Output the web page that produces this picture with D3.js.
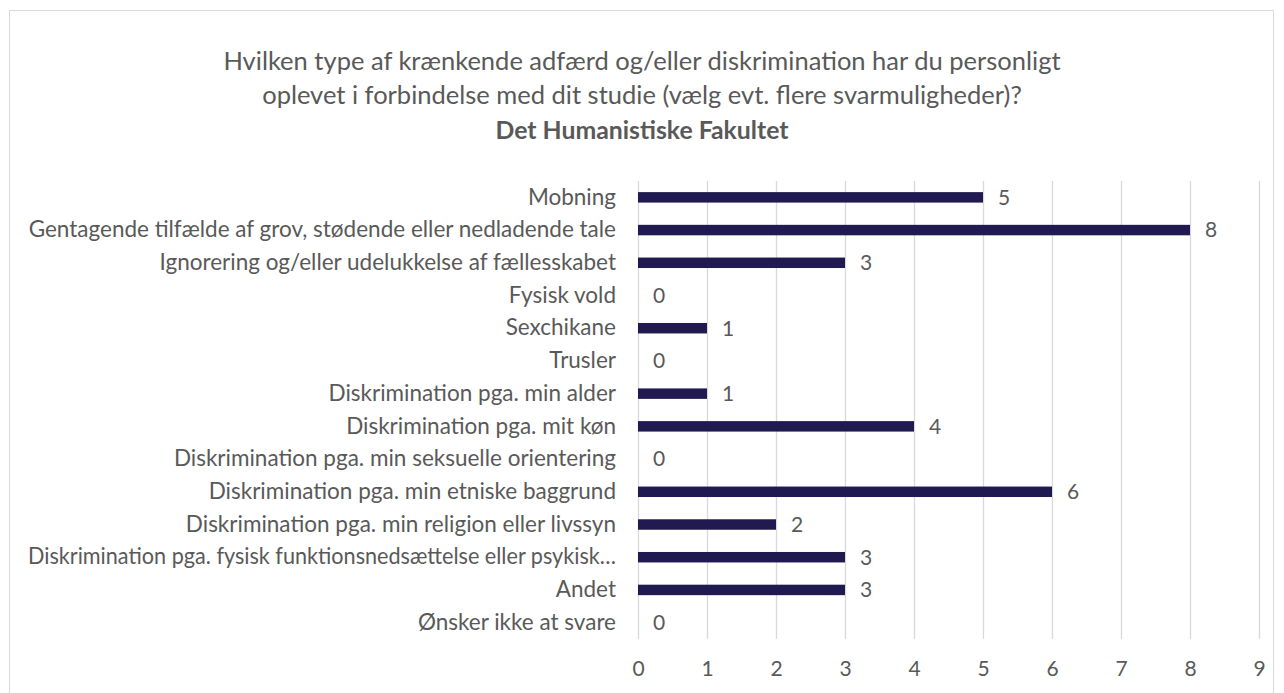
<!DOCTYPE html>
<html>
<head>
<meta charset="utf-8">
<script src="https://cdn.jsdelivr.net/npm/d3@7"></script>
<style>
  body { margin: 0; background: #fff; }
  text { font-family: Lato, "Open Sans", sans-serif; fill: #595959; }
</style>
</head>
<body>
<div id="chart"></div>
<script>
var categories = [
  "Mobning",
  "Gentagende tilfælde af grov, stødende eller nedladende tale",
  "Ignorering og/eller udelukkelse af fællesskabet",
  "Fysisk vold",
  "Sexchikane",
  "Trusler",
  "Diskrimination pga. min alder",
  "Diskrimination pga. mit køn",
  "Diskrimination pga. min seksuelle orientering",
  "Diskrimination pga. min etniske baggrund",
  "Diskrimination pga. min religion eller livssyn",
  "Diskrimination pga. fysisk funktionsnedsættelse eller psykisk…",
  "Andet",
  "Ønsker ikke at svare"
];
var values = [5, 8, 3, 0, 1, 0, 1, 4, 0, 6, 2, 3, 3, 0];
var xTicks = [0, 1, 2, 3, 4, 5, 6, 7, 8, 9];
var titleLines = [
  "Hvilken type af krænkende adfærd og/eller diskrimination har du personligt",
  "oplevet i forbindelse med dit studie (vælg evt. flere svarmuligheder)?"
];
var subtitle = "Det Humanistiske Fakultet";

var width = 1284, height = 693;
var plot = {left: 638, right: 1259, top: 181, bottom: 639};
var font = 'Lato, "Open Sans", sans-serif';
var maxLabelWidth = 588;

var svg = d3.select('#chart').append('svg')
  .attr('width', width)
  .attr('height', height);

// chart border
svg.append('rect')
  .attr('x', 9.5).attr('y', 10.5)
  .attr('width', 1264).attr('height', 700)
  .attr('fill', '#fff')
  .attr('stroke', '#d9d9d9');

var x = d3.scaleLinear()
  .domain([0, 9])
  .range([plot.left, plot.right]);

var y = d3.scaleBand()
  .domain(categories)
  .range([plot.top, plot.bottom])
  .paddingInner(0.68)
  .paddingOuter(0.34);

// gridlines
svg.append('g')
  .selectAll('line').data(xTicks)
  .enter().append('line')
    .attr('x1', function (d) { return Math.round(x(d)) + 0.5; })
    .attr('x2', function (d) { return Math.round(x(d)) + 0.5; })
    .attr('y1', plot.top)
    .attr('y2', plot.bottom)
    .attr('stroke', '#d9d9d9')
    .attr('stroke-width', 1.3);

// x axis tick labels
var xAxis = d3.axisBottom(x).tickValues(xTicks).tickSize(0).tickPadding(0);
var gx = svg.append('g')
  .attr('transform', 'translate(0,' + (plot.bottom + 22) + ')')
  .call(xAxis);
gx.select('.domain').remove();
gx.selectAll('text')
  .attr('dy', '0.71em')
  .style('font-size', '21px')
  .style('font-family', font)
  .attr('fill', '#595959');

// y axis labels
var yAxis = d3.axisLeft(y).tickSize(0).tickPadding(22);
var gy = svg.append('g')
  .attr('transform', 'translate(' + plot.left + ',0)')
  .call(yAxis);
gy.select('.domain').remove();
gy.selectAll('text')
  .style('font-size', '22.5px')
  .style('font-family', font)
  .attr('fill', '#595959')
  .each(function () {
    // keep the long labels inside the chart box
    if (this.getComputedTextLength() > maxLabelWidth) {
      d3.select(this)
        .attr('textLength', maxLabelWidth)
        .attr('lengthAdjust', 'spacingAndGlyphs');
    }
  });

// bars
svg.append('g')
  .selectAll('rect').data(values)
  .enter().append('rect')
    .attr('x', x(0))
    .attr('y', function (d, i) { return y(categories[i]); })
    .attr('width', function (d) { return x(d) - x(0); })
    .attr('height', y.bandwidth())
    .attr('fill', '#201a50');

// value labels
svg.append('g')
  .selectAll('text').data(values)
  .enter().append('text')
    .attr('x', function (d) { return x(d) + 15; })
    .attr('y', function (d, i) { return y(categories[i]) + y.bandwidth() / 2; })
    .attr('dy', '0.35em')
    .style('font-size', '21px')
    .text(function (d) { return d; });

// title
var title = svg.append('g');
titleLines.forEach(function (t, i) {
  title.append('text')
    .attr('x', 642)
    .attr('y', 70 + i * 34)
    .attr('text-anchor', 'middle')
    .style('font-size', '25.5px')
    .text(t);
});
title.append('text')
  .attr('x', 642)
  .attr('y', 139)
  .attr('text-anchor', 'middle')
  .style('font-size', '24.8px')
  .style('font-weight', 'bold')
  .text(subtitle);
</script>
</body>
</html>
